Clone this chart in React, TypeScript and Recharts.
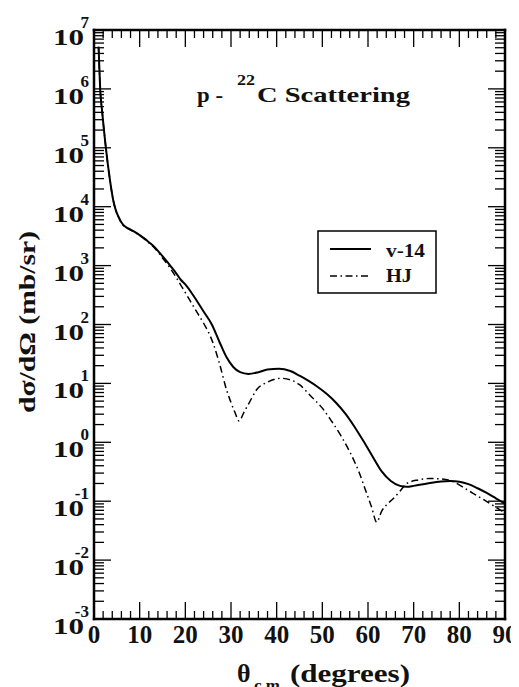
import React from 'react';
import { ComposedChart, Line, XAxis, YAxis, ReferenceLine, Customized } from 'recharts';

// ---- data (angle in degrees, cross-section in mb/sr) ----
const v14Angles = [1.0, 1.35, 1.8, 2.6, 3.4, 4.2, 4.7, 5.3, 6.4, 7, 8, 9, 10, 11, 12, 13, 14, 15, 16, 17, 18, 19, 20, 22, 24, 25.8, 27.5, 29, 30.5, 32, 33.8, 36, 38, 40.5, 43, 45, 47, 49, 51, 53, 55, 57, 59, 61, 63, 65, 67, 68.5, 70, 73, 76, 78, 80, 82, 84, 86, 88, 90];
const v14Values = [5.2e6, 1.0e6, 4.0e5, 1.0e5, 3.2e4, 1.3e4, 9.1e3, 6.9e3, 4.9e3, 4.5e3, 4.1e3, 3.7e3, 3.3e3, 2.9e3, 2.5e3, 2.15e3, 1.78e3, 1.45e3, 1.17e3, 930, 740, 575, 480, 290, 166, 100, 50, 28, 19, 15.5, 14.5, 15.5, 17.2, 17.8, 16.2, 13.5, 11, 8.7, 6.6, 4.7, 3.1, 1.86, 1.05, 0.575, 0.32, 0.22, 0.182, 0.176, 0.182, 0.2, 0.216, 0.22, 0.214, 0.195, 0.166, 0.138, 0.112, 0.091];

const hjAngles = [1.0, 1.35, 1.8, 2.6, 3.4, 4.2, 4.7, 5.3, 6.4, 7, 8, 9, 10, 11, 12, 13, 14, 15, 16, 17, 18, 19, 20, 22, 24, 25, 26, 27.6, 29, 29.8, 30.8, 31.8, 32.8, 33.8, 35.6, 38, 41, 43, 45, 47.3, 50, 52, 54, 56, 58, 59.5, 60.8, 61.9, 63, 64.2, 65.5, 67, 68.5, 71, 73.6, 77, 79, 81.6, 85, 88, 90];
const hjValues = [5.2e6, 1.0e6, 4.0e5, 1.0e5, 3.2e4, 1.3e4, 9.0e3, 6.8e3, 4.8e3, 4.4e3, 4.0e3, 3.65e3, 3.25e3, 2.85e3, 2.45e3, 2.09e3, 1.7e3, 1.35e3, 1.07e3, 830, 630, 468, 347, 190, 105, 76, 50, 20, 7.9, 5.2, 3.3, 2.3, 3.2, 4.4, 7.8, 10.5, 12.2, 11.5, 9.5, 6.3, 3.8, 2.3, 1.32, 0.69, 0.316, 0.151, 0.079, 0.044, 0.068, 0.089, 0.11, 0.148, 0.2, 0.23, 0.243, 0.234, 0.209, 0.158, 0.11, 0.079, 0.063];

// ---- axes ----
const xMajorTicks = [0, 10, 20, 30, 40, 50, 60, 70, 80, 90];
const xTickLabels = ['0', '10', '20', '30', '40', '50', '60', '70', '80', '90'];
const xMinorStep = 2;
const yExponents = [-3, -2, -1, 0, 1, 2, 3, 4, 5, 6, 7];
const yExponentLabels = ['-3', '-2', '-1', '0', '1', '2', '3', '4', '5', '6', '7'];
const yMinorMultipliers = [2, 3, 4, 5, 6, 7, 8, 9];

const seriesNames = ['v-14', 'HJ'];
const titleParts = ['p -', '22', 'C Scattering'];
const yTitle = 'dσ/dΩ (mb/sr)';
const xTitleParts = ['θ', 'c.m.', '(degrees)'];

const xMinorTicks: number[] = [];
for (let v = xMajorTicks[0]; v <= xMajorTicks[xMajorTicks.length - 1] + 1e-9; v += xMinorStep) {
  if (!xMajorTicks.some((m) => Math.abs(m - v) < 1e-6)) xMinorTicks.push(v);
}
const yMajorTicks = yExponents.map((e) => Math.pow(10, e));
const yMinorTicks: number[] = [];
yExponents.slice(0, -1).forEach((e) => yMinorMultipliers.forEach((m) => yMinorTicks.push(m * Math.pow(10, e))));

const v14Data = v14Angles.map((a, i) => ({ angle: a, value: v14Values[i] }));
const hjData = hjAngles.map((a, i) => ({ angle: a, value: hjValues[i] }));

const FONT = "'Liberation Serif', 'Times New Roman', Times, serif";
const TXT = { fontFamily: FONT, fontWeight: 700 as const, fill: '#111' };
const MAJOR = 17;
const MINOR_X = 8;
const MINOR_Y = 10;
const DASH = '7 3.5 1.5 3.5';
const TICK_W = 1.3;

const LeftTick = (props: any) => {
  const x = Number(props.x);
  const y = Number(props.y);
  const idx = yMajorTicks.findIndex((t) => Math.abs(Math.log10(t) - Math.log10(props.payload.value)) < 1e-6);
  if (idx < 0) return <g />;
  return (
    <g>
      <text x={x - 10} y={y + 15} fontSize={24} textAnchor="end" textLength={31} lengthAdjust="spacingAndGlyphs" style={TXT}>10</text>
      <text x={x - 5} y={y - 2} fontSize={17} textAnchor="end" style={TXT}>{yExponentLabels[idx]}</text>
    </g>
  );
};

const BottomTick = (props: any) => {
  const x = Number(props.x);
  const y = Number(props.y);
  const mi = xMajorTicks.findIndex((m) => Math.abs(m - props.payload.value) < 1e-6);
  if (mi < 0) return <g />;
  return (
    <text x={x} y={y + 24} fontSize={25} textAnchor="middle" style={TXT}>{xTickLabels[mi]}</text>
  );
};

const EmptyTick = () => <g />;

// inward tick stubs drawn at both ends of a reference line positioned by the axis scales
const hStub = (len: number) => (p: any) => {
  const x1 = Math.min(Number(p.x1), Number(p.x2));
  const x2 = Math.max(Number(p.x1), Number(p.x2));
  const y = Number(p.y1);
  return (
    <g>
      <line x1={x1} y1={y} x2={x1 + len} y2={y} stroke="#000" strokeWidth={TICK_W} />
      <line x1={x2 - len} y1={y} x2={x2} y2={y} stroke="#000" strokeWidth={TICK_W} />
    </g>
  );
};
const vStub = (len: number) => (p: any) => {
  const y1 = Math.min(Number(p.y1), Number(p.y2));
  const y2 = Math.max(Number(p.y1), Number(p.y2));
  const x = Number(p.x1);
  return (
    <g>
      <line x1={x} y1={y1} x2={x} y2={y1 + len} stroke="#000" strokeWidth={TICK_W} />
      <line x1={x} y1={y2 - len} x2={x} y2={y2} stroke="#000" strokeWidth={TICK_W} />
    </g>
  );
};

const Annotations = () => (
  <g>
    {/* title */}
    <text x={189} y={94} fontSize={21} textLength={26} lengthAdjust="spacingAndGlyphs" style={TXT}>{titleParts[0]}</text>
    <text x={229} y={77} fontSize={14} textLength={18} lengthAdjust="spacingAndGlyphs" style={TXT}>{titleParts[1]}</text>
    <text x={249} y={94} fontSize={21} textLength={153} lengthAdjust="spacingAndGlyphs" style={TXT}>{titleParts[2]}</text>
    {/* legend */}
    <rect x={310} y={223} width={118} height={62} fill="#fff" stroke="#000" strokeWidth={1.5} />
    <line x1={322} y1={241} x2={363} y2={241} stroke="#000" strokeWidth={2} />
    <line x1={322} y1={268} x2={363} y2={268} stroke="#000" strokeWidth={1.5} strokeDasharray={DASH} />
    <text x={378} y={249} fontSize={18} textLength={39} lengthAdjust="spacingAndGlyphs" style={TXT}>{seriesNames[0]}</text>
    <text x={378} y={274} fontSize={18} textLength={26} lengthAdjust="spacingAndGlyphs" style={TXT}>{seriesNames[1]}</text>
    {/* y title */}
    <text x={0} y={0} fontSize={24} textAnchor="middle" textLength={182} lengthAdjust="spacingAndGlyphs" transform="translate(27,314) rotate(-90)" style={TXT}>
      {yTitle}
    </text>
    {/* x title */}
    <text x={229} y={674} fontSize={26} style={TXT}>{xTitleParts[0]}</text>
    <text x={246} y={683} fontSize={17} style={TXT}>{xTitleParts[1]}</text>
    <text x={282} y={674} fontSize={26} textLength={120} lengthAdjust="spacingAndGlyphs" style={TXT}>{xTitleParts[2]}</text>
  </g>
);

const axisLine = { stroke: '#000', strokeWidth: 2.5, strokeLinecap: 'square' as const };

export default function App() {
  return (
    <ComposedChart width={511} height={679} margin={{ top: 0, right: 0, bottom: 0, left: 0 }}>
      <XAxis xAxisId="b" dataKey="angle" type="number" domain={[0, 90]} allowDataOverflow ticks={xMajorTicks} interval={0}
        orientation="bottom" height={68} tickSize={0} tickMargin={0} tickLine={false} axisLine={axisLine} tick={BottomTick} />
      <XAxis xAxisId="t" type="number" domain={[0, 90]} allowDataOverflow ticks={xMajorTicks} interval={0}
        orientation="top" height={22} tickSize={0} tickMargin={0} tickLine={false} axisLine={axisLine} tick={EmptyTick} />
      <YAxis yAxisId="l" dataKey="value" type="number" scale="log" domain={[1e-3, 1e7]} allowDataOverflow ticks={yMajorTicks} interval={0}
        orientation="left" width={86} tickSize={0} tickMargin={0} tickLine={false} axisLine={axisLine} tick={LeftTick} />
      <YAxis yAxisId="r" type="number" scale="log" domain={[1e-3, 1e7]} allowDataOverflow ticks={yMajorTicks} interval={0}
        orientation="right" width={14} tickSize={0} tickMargin={0} tickLine={false} axisLine={axisLine} tick={EmptyTick} />

      {yMajorTicks.map((v) => (
        <ReferenceLine key={`ym${v}`} xAxisId="b" yAxisId="l" y={v} ifOverflow="extendDomain" shape={hStub(MAJOR)} />
      ))}
      {yMinorTicks.map((v) => (
        <ReferenceLine key={`yn${v}`} xAxisId="b" yAxisId="l" y={v} shape={hStub(MINOR_Y)} />
      ))}
      {xMajorTicks.map((v) => (
        <ReferenceLine key={`xm${v}`} xAxisId="b" yAxisId="l" x={v} ifOverflow="extendDomain" shape={vStub(MAJOR)} />
      ))}
      {xMinorTicks.map((v) => (
        <ReferenceLine key={`xn${v}`} xAxisId="b" yAxisId="l" x={v} shape={vStub(MINOR_X)} />
      ))}

      <Line xAxisId="b" yAxisId="l" data={v14Data} dataKey="value" name={seriesNames[0]} type="monotone" stroke="#000"
        strokeWidth={2} dot={false} isAnimationActive={false} />
      <Line xAxisId="b" yAxisId="l" data={hjData} dataKey="value" name={seriesNames[1]} type="monotone" stroke="#000"
        strokeWidth={1.5} strokeDasharray={DASH} dot={false} isAnimationActive={false} />
      <Customized component={Annotations} />
    </ComposedChart>
  );
}
